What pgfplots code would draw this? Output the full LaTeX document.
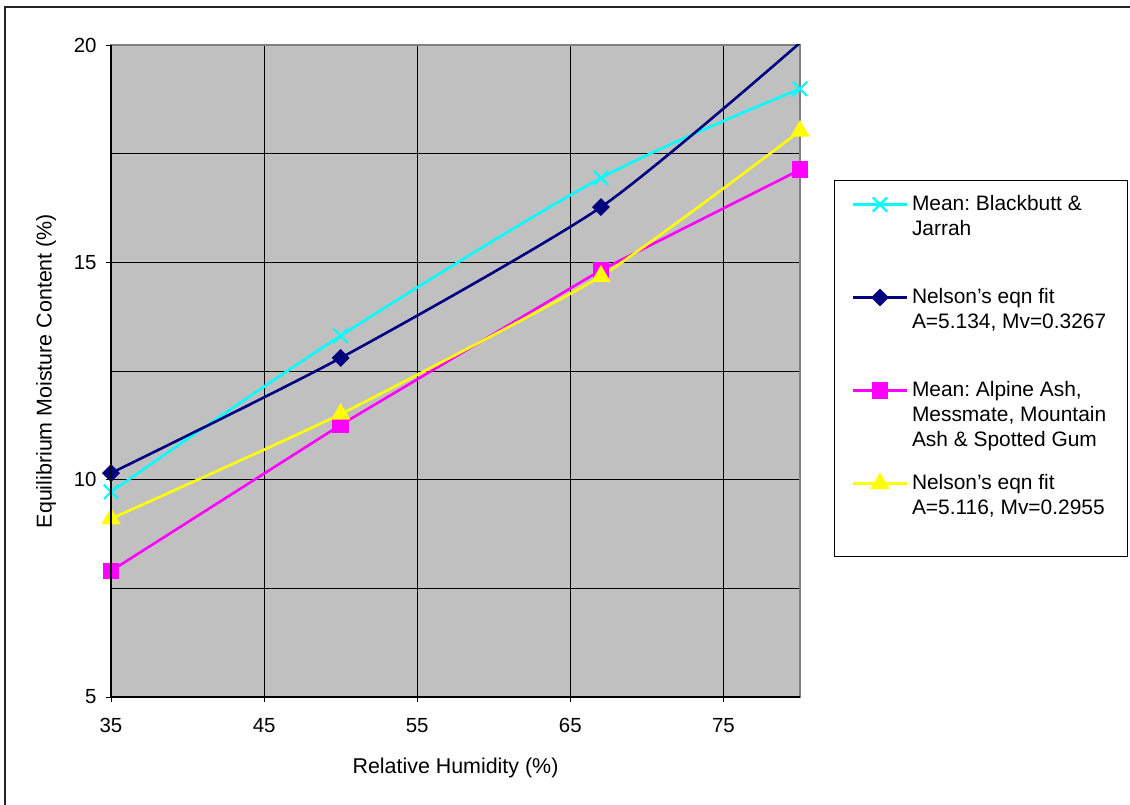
\documentclass[border=0pt]{standalone}
\usepackage{fontspec}
\setmainfont{Liberation Sans}
\usepackage{pgfplots}
\pgfplotsset{compat=1.18}
\frenchspacing
\definecolor{bgc}{HTML}{C0C0C0}
\definecolor{frm}{HTML}{808080}
\definecolor{cy}{HTML}{00FFFF}
\definecolor{nv}{HTML}{000080}
\definecolor{mg}{HTML}{FF00FF}
\definecolor{yl}{HTML}{FFFF00}
\begin{document}
\begin{tikzpicture}[x=1bp,y=1bp,font=\fontsize{21.5}{25}\selectfont]
\useasboundingbox (-111,-108) rectangle (1019,697);
\begin{axis}[
  at={(0,0)}, anchor=south west,
  scale only axis, width=689bp, height=652bp,
  xmin=35, xmax=80, ymin=5, ymax=20,
  xtick={35,45,55,65,75},
  ytick={5,10,15,20},
  minor ytick={7.5,12.5,17.5},
  grid=both,
  major grid style={black, line width=0.8bp},
  minor grid style={black, line width=0.8bp},
  axis background/.style={fill=bgc},
  axis line style={draw=frm, line width=1.6bp},
  tick align=outside, xtick pos=left, ytick pos=left,
  major tick length=5bp, minor tick length=0bp,
  tick style={black, line width=0.8bp},
  /pgf/number format/assume math mode=true,
  tick label style={font=\fontsize{20.5}{23}\selectfont},
  xticklabel style={yshift=-13bp},
  yticklabel style={xshift=-6bp},
  xlabel={Relative Humidity (\%)},
  ylabel={Equilibrium Moisture Content (\%)},
  xlabel style={at={(axis description cs:0.5,-0.1166)}, anchor=base, font=\fontsize{21.5}{25}\selectfont},
  ylabel style={at={(axis description cs:-0.0943,0.5)}, anchor=center, font=\fontsize{21.5}{25}\selectfont},
  clip=true,
  legend cell align=left,
  legend image code/.code={
    \pgfpathrectangle{\pgfpoint{0bp}{-2bp}}{\pgfpoint{54bp}{16bp}}\pgfusepath{use as bounding box}
    \draw[#1, mark indices={2}] plot coordinates {(0bp,6.5bp) (27bp,6.5bp) (54bp,6.5bp)};
  },
  legend style={draw=none, fill=none, at={(1.07692,0.76687)}, anchor=north west,
    inner sep=0pt, outer sep=0pt, row sep=69bp, column sep=5bp,
    cells={anchor=base west},
    nodes={inner sep=0pt, outer sep=0pt, text height=14bp, text depth=10bp,
      font=\fontsize{21}{25}\selectfont\frenchspacing}},
]
\addplot[cy, line width=2.6bp, smooth, tension=0.5, mark=x, mark size=10bp,
  mark options={line width=2.2bp}]
  coordinates {(35,9.72) (50,13.31) (67,16.94) (80,18.99)};
\addlegendentry{\begin{tabular}[t]{@{}l@{}}Mean: Blackbutt \&\\Jarrah\end{tabular}}
\addplot[nv, line width=2.6bp, smooth, tension=0.4, mark=square*, mark size=5bp,
  mark options={rotate=45}, mark indices={1,2,3}]
  coordinates {(35,10.15) (50,12.80) (67,16.27) (80,20.05)};
\addlegendentry{\begin{tabular}[t]{@{}l@{}}Nelson's eqn fit\\A=5.134, Mv=0.3267\end{tabular}}
\addplot[mg, line width=2.6bp, mark=square*, mark size=7bp]
  coordinates {(35,7.90) (50,11.26) (67,14.82) (80,17.13)};
\addlegendentry{\begin{tabular}[t]{@{}l@{}}Mean: Alpine Ash,\\Messmate, Mountain\\Ash \& Spotted Gum\end{tabular}}
\addplot[yl, line width=2.6bp, smooth, tension=0.3, mark=triangle*, mark size=8.5bp]
  coordinates {(35,9.10) (50,11.51) (67,14.68) (80,18.02)};
\addlegendentry{\begin{tabular}[t]{@{}l@{}}Nelson's eqn fit\\A=5.116, Mv=0.2955\end{tabular}}
\end{axis}
\draw[black, line width=1.6bp] (0,652) -- (0,0) -- (689,0);
\draw[black, line width=1bp] (723,516) rectangle (1016,140);
\draw[black!85, line width=1.5bp] (-106,-108) -- (-106,690) -- (1019,690);
\end{tikzpicture}
\end{document}
